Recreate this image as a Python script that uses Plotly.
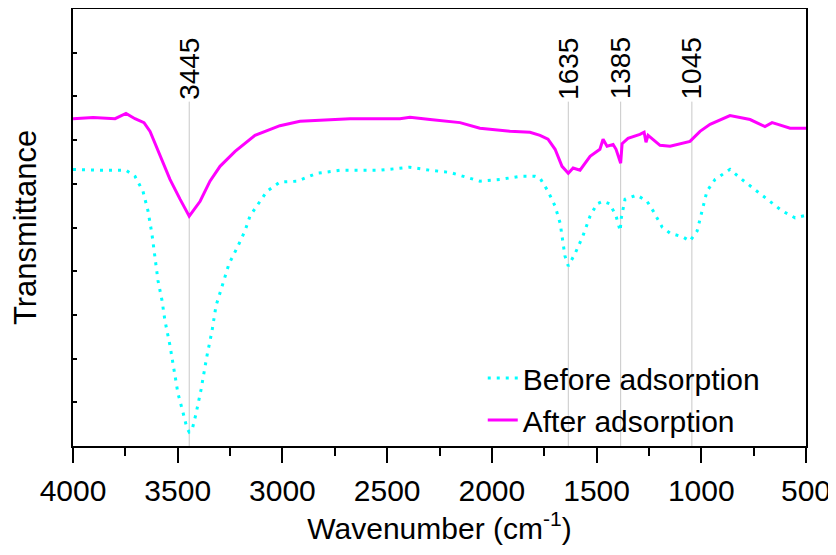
import plotly.graph_objects as go

# Wavenumber (cm^-1) and transmittance (a.u.)
after_wn = [4000, 3904, 3799, 3747, 3704, 3661, 3632, 3585, 3537, 3489, 3445, 3393, 3346, 3298, 3226,
            3131, 3012, 2916, 2677, 2439, 2391, 2295, 2152, 2057, 1913, 1818, 1770, 1732, 1698, 1665,
            1635, 1612, 1579, 1531, 1484, 1469, 1450, 1421, 1407, 1385, 1378, 1350, 1293, 1273, 1264,
            1254, 1235, 1197, 1149, 1054, 1006, 958, 863, 767, 696, 662, 634, 576, 500]
after_t = [74.9, 75.2, 74.9, 76.1, 74.9, 74.0, 72.0, 66.7, 61.0, 56.5, 52.6, 56.0, 60.6, 64.0, 67.4,
           71.1, 73.3, 74.3, 74.9, 74.9, 75.2, 74.7, 74.0, 72.7, 72.0, 71.8, 71.1, 70.2, 67.9, 64.0,
           62.4, 63.6, 63.1, 66.3, 67.9, 70.2, 68.6, 69.0, 67.9, 64.7, 69.2, 70.4, 71.3, 71.8, 69.5,
           71.1, 70.4, 68.8, 68.6, 69.7, 72.0, 73.6, 75.6, 74.7, 73.1, 74.0, 73.6, 72.7, 72.7]

before_wn = [4000, 3871, 3747, 3704, 3666, 3642, 3623, 3608, 3594, 3575, 3561, 3537, 3518, 3499, 3475,
             3456, 3445, 3432, 3413, 3389, 3360, 3336, 3317, 3289, 3255, 3217, 3179, 3155, 3131, 3107,
             3074, 3012, 2930, 2835, 2725, 2534, 2391, 2295, 2200, 2057, 1961, 1866, 1794, 1770, 1732,
             1698, 1674, 1660, 1651, 1635, 1603, 1565, 1531, 1498, 1469, 1436, 1407, 1387, 1383, 1364,
             1307, 1259, 1230, 1187, 1149, 1087, 1054, 1020, 996, 973, 934, 863, 806, 734, 672,
             614, 552, 514, 500]
before_t = [63.3, 63.1, 63.1, 61.7, 58.3, 53.8, 48.5, 43.5, 37.8, 33.3, 28.7, 23.0, 17.3, 12.1, 7.7,
            4.1, 3.2, 3.6, 7.3, 12.8, 20.7, 26.4, 32.1, 36.7, 41.7, 45.3, 49.2, 52.6, 54.4, 56.0,
            58.3, 60.4, 60.6, 62.4, 63.1, 63.1, 63.8, 63.1, 62.6, 60.6, 61.0, 61.7, 61.7, 61.3, 58.3,
            54.9, 51.0, 46.9, 43.5, 41.2, 44.0, 48.1, 52.6, 55.4, 56.0, 55.4, 52.6, 49.2, 51.9, 56.5,
            57.4, 56.0, 53.8, 50.1, 48.7, 47.8, 46.9, 49.2, 53.8, 58.3, 61.0, 63.3, 61.0, 58.3, 56.0,
            53.8, 52.2, 52.6, 52.8]

peak_positions = [3445, 1635, 1385, 1045]
peak_labels = ["3445", "1635", "1385", "1045"]
x_ticks = [4000, 3500, 3000, 2500, 2000, 1500, 1000, 500]

FONT = "Arial, Liberation Sans, sans-serif"

fig = go.Figure()
fig.add_trace(go.Scatter(x=before_wn, y=before_t, mode="lines", name="Before adsorption",
                         line=dict(color="#00FFFF", width=3, dash="3px,6px")))
fig.add_trace(go.Scatter(x=after_wn, y=after_t, mode="lines", name="After adsorption",
                         line=dict(color="#FF00FF", width=3)))

line_top = 78.8
for pos, lab in zip(peak_positions, peak_labels):
    fig.add_shape(type="line", x0=pos, x1=pos, y0=0, y1=line_top, xref="x", yref="y",
                  line=dict(color="#C8C8C8", width=1), layer="below")
    fig.add_annotation(x=pos, y=line_top, text=lab, textangle=-90, showarrow=False,
                       xanchor="center", yanchor="bottom", font=dict(size=28, color="black", family=FONT))

fig.update_layout(
    width=836, height=555,
    margin=dict(l=65, r=38, t=1, b=117, autoexpand=False),
    paper_bgcolor="white", plot_bgcolor="white",
    font=dict(family=FONT, color="black", size=30),
    showlegend=True,
    legend=dict(x=0.559, y=0.215, xanchor="left", yanchor="top", bgcolor="rgba(0,0,0,0)",
                font=dict(size=30, family=FONT), tracegroupgap=0),
)
fig.update_xaxes(
    range=[4000, 500], tickmode="array", tickvals=x_ticks,
    ticks="outside", ticklen=15, tickwidth=2, tickcolor="black",
    minor=dict(ticks="outside", ticklen=8, tickwidth=2, tickcolor="black", dtick=250, tick0=500),
    showline=True, linecolor="black", linewidth=2, mirror=True, showgrid=False, zeroline=False,
    tickfont=dict(size=30, family=FONT), ticklabelstandoff=2,
    title=dict(text="Wavenumber (cm<sup>-1</sup>)", font=dict(size=30, family=FONT), standoff=10),
)
fig.update_yaxes(
    range=[0, 100], dtick=10, showticklabels=False,
    ticks="inside", ticklen=4, tickwidth=2, tickcolor="black",
    showline=True, linecolor="black", linewidth=2, mirror=True, showgrid=False, zeroline=False,
    title=dict(text="Transmittance", font=dict(size=31, family=FONT), standoff=26),
)

fig.write_html("out.html")
